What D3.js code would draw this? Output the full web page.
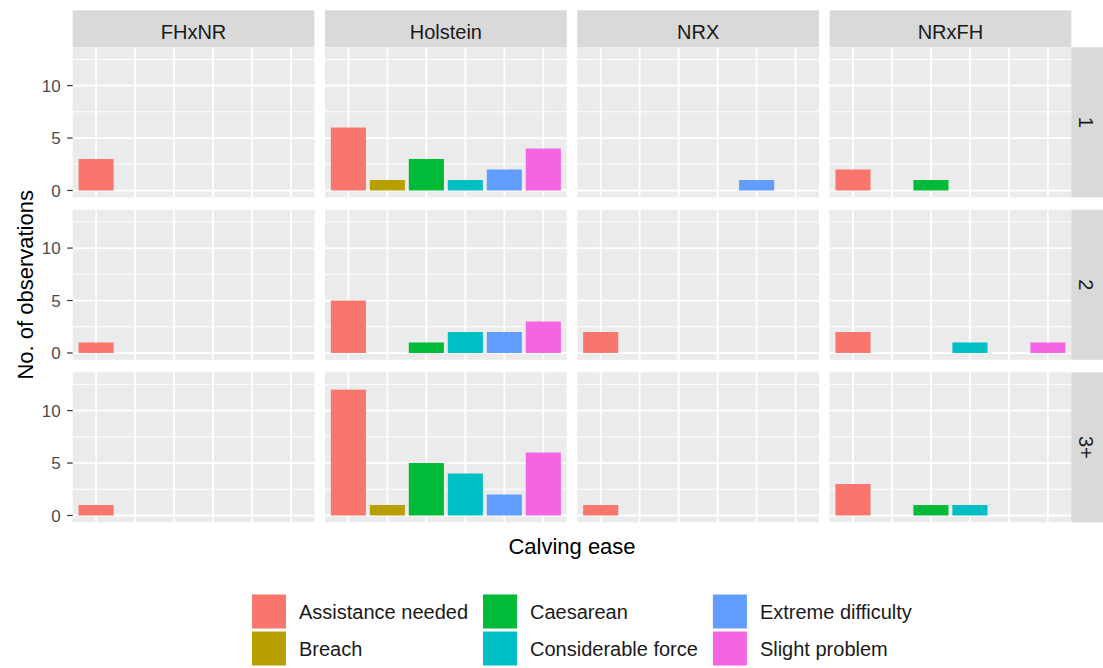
<!DOCTYPE html>
<html>
<head>
<meta charset="utf-8">
<script src="https://cdn.jsdelivr.net/npm/d3@7"></script>
<style>
  html, body { margin: 0; padding: 0; background: #ffffff; }
  svg { display: block; font-family: "Liberation Sans", Arial, sans-serif; }
</style>
</head>
<body>
<svg id="chart" width="1103" height="668"></svg>
<script>
// ---- data ----
const breeds = ["FHxNR", "Holstein", "NRX", "NRxFH"];
const parities = ["1", "2", "3+"];
const categories = ["Assistance needed", "Breach", "Caesarean", "Considerable force", "Extreme difficulty", "Slight problem"];
const colors = ["#F8766D", "#B79F00", "#00BA38", "#00BFC4", "#619CFF", "#F564E3"];
// counts per breed (rows of arrays follow `breeds`, columns follow `categories`)
const parity1 = [[3,0,0,0,0,0],[6,1,3,1,2,4],[0,0,0,0,1,0],[2,0,1,0,0,0]];
const parity2 = [[1,0,0,0,0,0],[5,0,1,2,2,3],[2,0,0,0,0,0],[2,0,0,1,0,1]];
const parity3 = [[1,0,0,0,0,0],[12,1,5,4,2,6],[1,0,0,0,0,0],[3,0,1,1,0,0]];
const yTicks = [0, 5, 10];
const yMinor = [2.5, 7.5, 12.5];
const yTitle = "No. of observations";
const xTitle = "Calving ease";

const rowsData = [parity1, parity2, parity3];

// ---- layout ----
const svg = d3.select("#chart");
const panelLeft = 72.7, panelW = 241.7, panelGapX = 10.6;
const panelTop = 47.3, panelH = 150, panelGapY = 12.5;
const stripH = 37, stripW = 32;

const x = d3.scaleBand().domain(categories)
  .range([0, panelW]).paddingInner(0.1).paddingOuter(0.1 + 0.5 * 0.0);
// emulate ggplot discrete expansion: 0.6 unit each side, bar width 0.9
const unit = panelW / (categories.length + 0.2);
const xc = d => (0.6 + categories.indexOf(d)) * unit;
const barW = 0.9 * unit;

const y = d3.scaleLinear().domain([-0.65, 13.65]).range([panelH, 0]);

breeds.forEach((b, ci) => {
  const px = panelLeft + ci * (panelW + panelGapX);
  // top strip
  svg.append("rect").attr("x", px).attr("y", panelTop - stripH)
    .attr("width", panelW).attr("height", stripH).attr("fill", "#D9D9D9");
  svg.append("text").attr("x", px + panelW / 2).attr("y", panelTop - stripH + 29)
    .attr("text-anchor", "middle").attr("font-size", 20).attr("fill", "#1A1A1A").text(b);

  rowsData.forEach((rd, ri) => {
    const py = panelTop + ri * (panelH + panelGapY);
    const g = svg.append("g").attr("transform", `translate(${px},${py})`);
    g.append("rect").attr("width", panelW).attr("height", panelH).attr("fill", "#EBEBEB");
    g.selectAll("line.minor").data(yMinor).enter().append("line")
      .attr("x1", 0).attr("x2", panelW).attr("y1", d => y(d)).attr("y2", d => y(d))
      .attr("stroke", "#ffffff").attr("stroke-width", 1.0);
    g.selectAll("line.major").data(yTicks).enter().append("line")
      .attr("x1", 0).attr("x2", panelW).attr("y1", d => y(d)).attr("y2", d => y(d))
      .attr("stroke", "#ffffff").attr("stroke-width", 1.8);
    g.selectAll("line.vx").data(categories).enter().append("line")
      .attr("x1", d => xc(d)).attr("x2", d => xc(d)).attr("y1", 0).attr("y2", panelH)
      .attr("stroke", "#ffffff").attr("stroke-width", 1.8);
    const vals = categories.map((c, k) => ({ c, v: rd[ci][k], col: colors[k] })).filter(d => d.v > 0);
    g.selectAll("rect.bar").data(vals).enter().append("rect")
      .attr("x", d => xc(d.c) - barW / 2).attr("width", barW)
      .attr("y", d => y(d.v)).attr("height", d => y(0) - y(d.v))
      .attr("fill", d => d.col);

    if (ci === 0) {
      const ya = svg.append("g").attr("transform", `translate(${px},${py})`);
      ya.selectAll("line.tk").data(yTicks).enter().append("line")
        .attr("x1", -5.5).attr("x2", 0).attr("y1", d => y(d)).attr("y2", d => y(d))
        .attr("stroke", "#333333").attr("stroke-width", 1.2);
      ya.selectAll("text.tl").data(yTicks).enter().append("text")
        .attr("x", -12).attr("y", d => y(d)).attr("dy", "0.36em")
        .attr("text-anchor", "end").attr("font-size", 17).attr("fill", "#4D4D4D")
        .text(d => d);
    }
    if (ci === breeds.length - 1) {
      const sx = px + panelW;
      svg.append("rect").attr("x", sx).attr("y", py).attr("width", stripW).attr("height", panelH)
        .attr("fill", "#D9D9D9");
      svg.append("text").attr("transform", `translate(${sx + 15},${py + panelH / 2}) rotate(90)`)
        .attr("text-anchor", "middle").attr("dy", "0.35em").attr("font-size", 20)
        .attr("fill", "#1A1A1A").text(parities[ri]);
    }
  });
});

// axis titles
const panelsRight = panelLeft + breeds.length * panelW + (breeds.length - 1) * panelGapX;
const panelsBottom = panelTop + parities.length * panelH + (parities.length - 1) * panelGapY;
svg.append("text").attr("x", (panelLeft + panelsRight) / 2).attr("y", 554)
  .attr("text-anchor", "middle").attr("font-size", 22).attr("fill", "#000").text(xTitle);
svg.append("text").attr("transform", `translate(33,${(panelTop + panelsBottom) / 2}) rotate(-90)`)
  .attr("text-anchor", "middle").attr("font-size", 22).attr("fill", "#000").text(yTitle);

// legend (2 rows, column-major)
const keyS = 34, keyStep = 37, legTop = 594.5;
let colX = 252;
const nCols = Math.ceil(categories.length / 2);
for (let c = 0; c < nCols; c++) {
  let maxW = 0;
  for (let r = 0; r < 2; r++) {
    const k = c * 2 + r;
    if (k >= categories.length) continue;
    const ky = legTop + r * keyStep;
    svg.append("rect").attr("x", colX).attr("y", ky).attr("width", keyS).attr("height", keyS)
      .attr("fill", colors[k]);
    const t = svg.append("text").attr("x", colX + keyS + 13).attr("y", ky + keyS / 2)
      .attr("dy", "0.36em").attr("font-size", 20).attr("fill", "#1A1A1A").text(categories[k]);
    maxW = Math.max(maxW, t.node().getComputedTextLength());
  }
  colX = colX + keyS + 13 + maxW + 15;
}
</script>
</body>
</html>
